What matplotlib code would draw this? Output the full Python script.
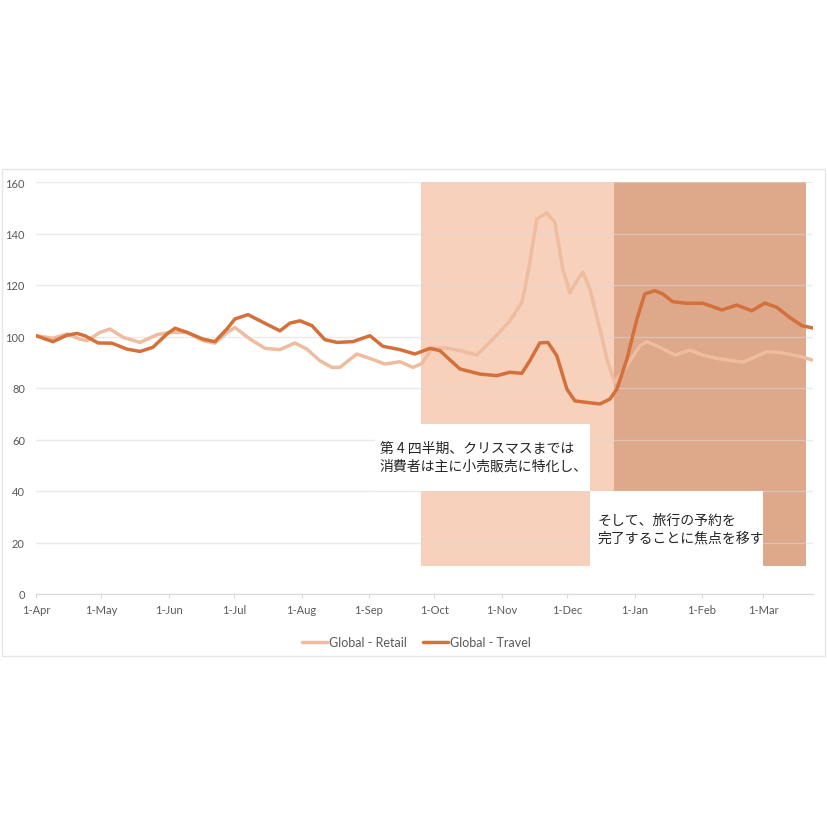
import matplotlib
matplotlib.use('Agg')
import matplotlib.pyplot as plt
from matplotlib.patches import Rectangle

# days counted from 1-Apr
month_days = [0, 30, 61, 91, 122, 153, 183, 214, 244, 275, 306, 334]
month_labels = ['1-Apr', '1-May', '1-Jun', '1-Jul', '1-Aug', '1-Sep',
                '1-Oct', '1-Nov', '1-Dec', '1-Jan', '1-Feb', '1-Mar']

retail_days = [0, 7.8, 14.2, 20.2, 23.4, 29.4, 34, 40, 47.8, 55.6, 61.6, 69.4,
               76.7, 82.2, 87.7, 91.4, 98.3, 105.2, 112.1, 118.9, 124.5, 130.4,
               136, 139.6, 147.4, 153.4, 160.3, 167.2, 173.2, 177.3, 181.9,
               188.8, 194.8, 202.6, 209.9, 217.7, 223.2, 224.6, 226.9, 230.1,
               234.7, 238.4, 242.1, 245.3, 249, 251.3, 254.5, 259.1, 262.7, 266,
               271.5, 277.5, 280.7, 286.6, 293.5, 300.4, 306.4, 312.8, 324.8,
               335.8, 341.8, 351, 357]
retail_vals = [100.3, 99.3, 101, 99, 98.4, 101.6, 102.9, 99.7, 97.7, 100.7,
               101.6, 101.6, 98.4, 97.4, 101.5, 103.5, 99, 95.4, 94.9, 97.5,
               95.1, 90.6, 88, 88, 93.2, 91.5, 89.3, 90.2, 88, 89.5, 95.5, 95.5,
               94.5, 92.8, 99, 106, 113.3, 118.4, 128.8, 145.6, 148, 144.3, 126,
               117, 122.3, 125, 118.4, 102.9, 90, 82.2, 88.7, 96.4, 98, 95.8,
               92.8, 94.7, 92.8, 91.5, 90, 94.1, 93.8, 92.3, 90.8]

travel_days = [0, 7.8, 14.2, 18.8, 22.5, 28.5, 34.9, 41.8, 47.8, 53.7, 60.2,
               63.9, 69.4, 76.7, 82.2, 87.7, 91.4, 97.4, 104.3, 112.1, 116.7,
               121.3, 126.8, 132.7, 138.3, 145.6, 153.4, 159.4, 167.2, 174.1,
               181, 185.6, 188.8, 194.8, 204, 211.8, 217.7, 223.2, 226.9, 231.5,
               235.2, 239.3, 243.9, 247.6, 253.1, 259.1, 263.7, 266.9, 271.5,
               276.1, 279.7, 284.3, 288, 292.6, 299, 306.4, 310.5, 315.1, 322,
               328.9, 334.9, 340.4, 346.3, 351.9, 357]
travel_vals = [100.3, 98, 100.5, 101.2, 100.3, 97.5, 97.4, 95.1, 94.2, 95.8,
               101, 103.2, 101.6, 99, 98, 102.9, 106.8, 108.5, 105.5, 102.2,
               105.2, 106.1, 104.2, 98.8, 97.7, 98, 100.3, 96.2, 94.9, 93.2,
               95.4, 94.5, 92, 87.4, 85.4, 84.8, 86.1, 85.7, 90.6, 97.5, 97.7,
               92.5, 79.6, 75, 74.4, 73.8, 75.7, 79.6, 91.2, 106.8, 116.5, 117.8,
               116.5, 113.5, 112.9, 112.9, 111.7, 110.3, 112.2, 110, 113, 111.3,
               107.4, 104.2, 103.3]

note1 = '第 4 四半期、クリスマスまでは\n消費者は主に小売販売に特化し、'
note2 = 'そして、旅行の予約を\n完了することに焦点を移す'

plt.rcParams['font.family'] = ['Lato', 'DejaVu Sans']

fig = plt.figure(figsize=(8.28, 8.28), dpi=100)
# chart frame
fig.patches.append(Rectangle((2 / 828, 1 - 657 / 828), 823 / 828, 487 / 828,
                             transform=fig.transFigure, fill=False,
                             edgecolor='#E6E6E6', linewidth=1))

ax = fig.add_axes([36 / 828, 1 - 595 / 828, (813 - 36) / 828, (595 - 183) / 828])
ax.set_xlim(0, 357)
ax.set_ylim(0, 160)

# shaded periods
ax.add_patch(Rectangle((177, 11), 88.5, 149, facecolor='#F8D1BC', edgecolor='none', zorder=1))
ax.add_patch(Rectangle((265.5, 11), 88.5, 149, facecolor='#DEA88A', edgecolor='none', zorder=1))

ax.set_yticks(range(0, 161, 20))
ax.grid(axis='y', color='#D9D9D9', linewidth=1, zorder=0)
ax.set_axisbelow(False)
for gl in ax.get_ygridlines():
    gl.set_alpha(0.55)
    gl.set_zorder(1.5)

ax.plot(retail_days, retail_vals, color='#EFBCA0', linewidth=2.5,
        solid_joinstyle='round', solid_capstyle='round', zorder=3, label='Global - Retail')
ax.plot(travel_days, travel_vals, color='#D4703A', linewidth=2.5,
        solid_joinstyle='round', solid_capstyle='round', zorder=4, label='Global - Travel')

# note boxes
ax.add_patch(Rectangle((155.7, 40), 98.8, 26, facecolor='white', edgecolor='none', zorder=5))
ax.add_patch(Rectangle((254.5, 11), 79.5, 29, facecolor='white', edgecolor='none', zorder=5))
ax.text(158, 53.3, note1, fontsize=10, color='#262626', va='center', ha='left',
        family=['Noto Sans CJK JP', 'DejaVu Sans'], linespacing=1.3, zorder=6)
ax.text(258, 25.3, note2, fontsize=10, color='#262626', va='center', ha='left',
        family=['Noto Sans CJK JP', 'DejaVu Sans'], linespacing=1.3, zorder=6)

ax.set_xticks(month_days)
ax.set_xticklabels(month_labels)
for s in ['top', 'right', 'left']:
    ax.spines[s].set_visible(False)
ax.spines['bottom'].set_color('#D9D9D9')
ax.tick_params(axis='x', colors='#595959', labelsize=8, length=3, color='#D9D9D9', pad=4)
ax.tick_params(axis='y', colors='#595959', labelsize=8, length=0, pad=8)

ax.legend(loc='upper center', bbox_to_anchor=(0.49, -0.075), ncol=2, frameon=False,
          fontsize=9, labelcolor='#595959', handlelength=2.0, handletextpad=0.15,
          columnspacing=1.3)

fig.savefig('out.png', dpi=100, facecolor='white')
